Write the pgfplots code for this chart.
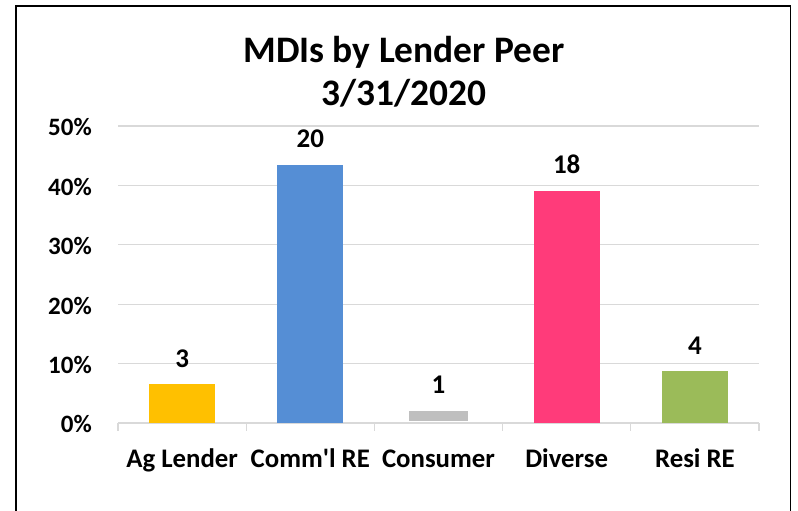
\documentclass[border=0pt]{standalone}
\usepackage{pgfplots}
\pgfplotsset{compat=1.18}
\usepackage{fontspec}
\setmainfont{Carlito}[Ligatures=TeXOff]
\definecolor{gridgray}{HTML}{D9D9D9}
\definecolor{agc}{HTML}{FFC000}
\definecolor{crec}{HTML}{558ED5}
\definecolor{conc}{HTML}{BFBFBF}
\definecolor{divc}{HTML}{FF3B7A}
\definecolor{resc}{HTML}{9BBB59}
\pgfplotstableread{
x y lab
0 6.52 3
1 43.48 20
2 2.17 1
3 39.13 18
4 8.70 4
}\labels
\begin{document}
\begin{tikzpicture}
\useasboundingbox (0,0) rectangle (798bp,511bp);
\draw[line width=1.6bp] (16bp,-10bp) -- (16bp,504.8bp) -- (790.5bp,504.8bp) -- (790.5bp,-10bp);
\begin{axis}[
  at={(118bp,88bp)}, anchor=south west,
  scale only axis, width=641bp, height=297bp,
  xmin=-0.5, xmax=4.5, ymin=0, ymax=50,
  clip=false,
  axis x line*=bottom, axis y line*=left,
  y axis line style={draw=none},
  x axis line style={draw=gridgray, line width=1.3bp},
  ymajorgrids, grid style={draw=gridgray, line width=1.3bp},
  ytick={0,10,20,30,40,50},
  yticklabels={0\%,10\%,20\%,30\%,40\%,50\%},
  xtick={0,1,2,3,4},
  xticklabels={Ag Lender,Comm'l RE,Consumer,Diverse,Resi RE},
  minor xtick={-0.5,0.5,1.5,2.5,3.5,4.5},
  tick align=outside,
  major tick length=0pt, minor tick length=8bp,
  minor tick style={draw=gridgray, line width=1.3bp},
  major tick style={draw=none},
  yticklabel style={anchor=base east, inner sep=0pt, xshift=-26bp, yshift=-10bp,
    font=\bfseries\fontsize{25bp}{25bp}\selectfont},
  xticklabel style={anchor=base, inner sep=0pt, yshift=-44bp,
    font=\bfseries\fontsize{26.8bp}{26.8bp}\selectfont},
  title={MDIs by Lender Peer\\3/31/2020},
  title style={align=center, anchor=base, inner sep=0pt,
    at={(axis description cs:0.4462,1)}, yshift=15bp,
    font=\bfseries\fontsize{37.4bp}{43bp}\selectfont},
]
\addplot[ybar, bar width=66bp, bar shift=0pt, fill=agc, draw=none] coordinates {(0,6.52)};
\addplot[ybar, bar width=66bp, bar shift=0pt, fill=crec, draw=none] coordinates {(1,43.48)};
\addplot[fill=conc, draw=none] coordinates {(1.77,0.35) (2.23,0.35) (2.23,2.0) (1.77,2.0)} -- cycle;
\addplot[ybar, bar width=66bp, bar shift=0pt, fill=divc, draw=none] coordinates {(3,39.13)};
\addplot[ybar, bar width=66bp, bar shift=0pt, fill=resc, draw=none] coordinates {(4,8.70)};
\addplot[only marks, mark=none, nodes near coords, point meta=explicit symbolic,
  nodes near coords style={anchor=base, inner sep=0pt, yshift=17bp, text=black,
    font=\bfseries\fontsize{27bp}{27bp}\selectfont}]
  table[x=x, y=y, meta=lab] {\labels};
\end{axis}
\end{tikzpicture}
\end{document}
